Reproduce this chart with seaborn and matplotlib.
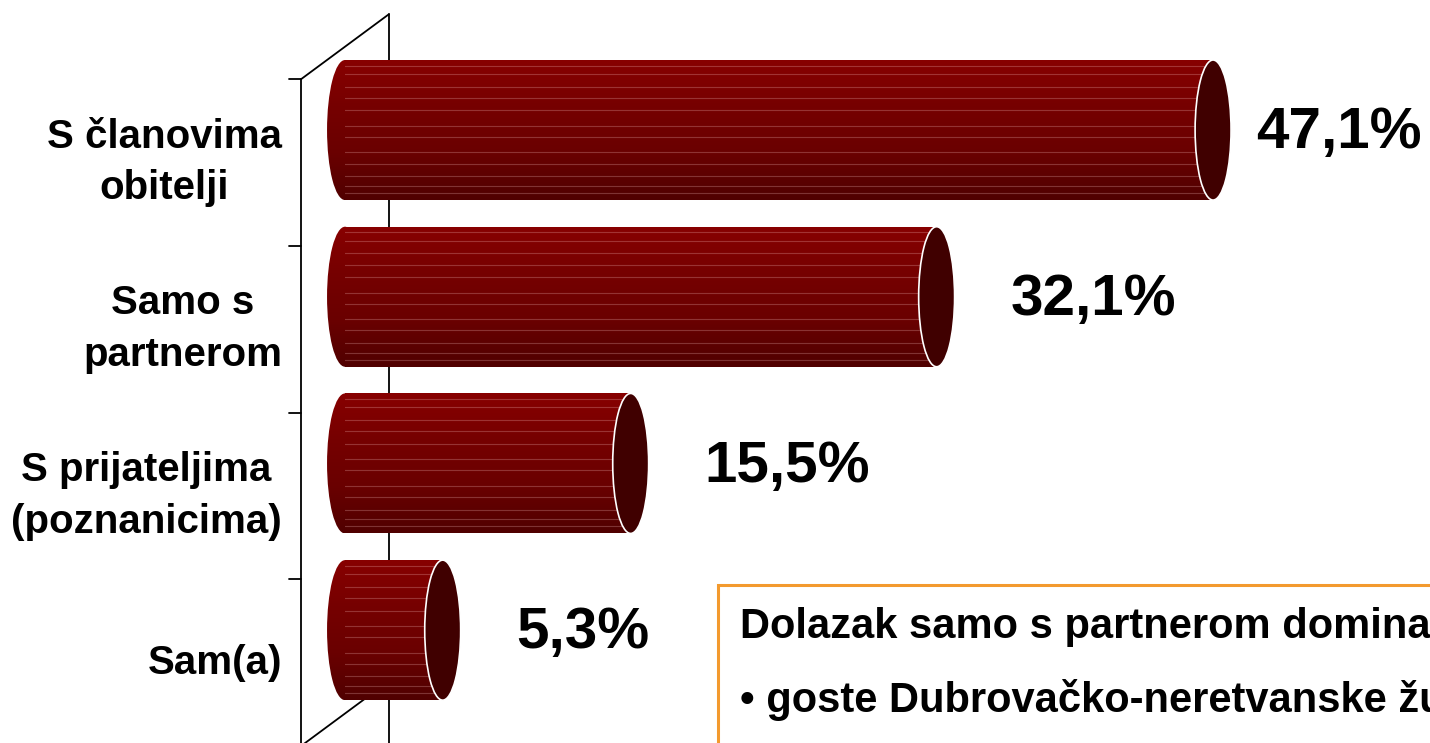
import numpy as np
import matplotlib
matplotlib.use('Agg')
import matplotlib.pyplot as plt
from matplotlib.patches import Ellipse, Rectangle
from matplotlib.colors import LinearSegmentedColormap
import seaborn as sns

# data
categories = ['S članovima\nobitelji', 'Samo s\npartnerom', 'S prijateljima\n(poznanicima)', 'Sam(a)']
values = [47.1, 32.1, 15.5, 5.3]
value_labels = ['47,1%', '32,1%', '15,5%', '5,3%']
note_lines = ['Dolazak samo s partnerom dominantan je kod:',
              '• goste Dubrovačko-neretvanske županije']

# style
sns.set_style('white')
plt.rcParams['font.family'] = ['Liberation Sans', 'DejaVu Sans']
plt.rcParams['text.color'] = 'black'

body_cmap = LinearSegmentedColormap.from_list('body', ['#880000', '#760000', '#6a0000', '#500000'])
cap_color = '#400000'
depth_x = 4.77      # 3D depth of the plot box, in value units
depth_y = 0.39      # 3D depth of the plot box, in category units
cap_w = 1.95        # width of the cylinder end ellipse, in value units
bar_h = 0.84

fig = plt.figure(figsize=(14.3, 7.43), dpi=100)
ax = fig.add_axes([0, 0, 1, 1])

sns.barplot(x=values, y=categories, orient='h', ax=ax, color='#700000',
            saturation=1, width=bar_h, zorder=3)

ax.axis('off')

# 3D frame: front wall, back wall, top and bottom diagonals, ticks
xf, xb = -depth_x / 2, depth_x / 2
n = len(categories)
edges = np.arange(n + 1) - 0.5 + depth_y / 2
ax.plot([xf, xf], [edges[0], edges[-1]], color='black', lw=1.3, zorder=1)
ax.plot([xb, xb], [edges[0] - depth_y, edges[-1]], color='black', lw=1.3, zorder=1)
ax.plot([xf, xb], [edges[0], edges[0] - depth_y], color='black', lw=1.3, zorder=1)
ax.plot([xf, xb], [edges[-1], edges[-1] - depth_y], color='black', lw=1.3, zorder=1)
for e in edges:
    ax.plot([xf - 0.65, xf], [e, e], color='black', lw=1.3, zorder=1)

# cylinders
grad = np.linspace(0, 1, 256).reshape(-1, 1)
stripes = [0.04, 0.1, 0.19, 0.27, 0.36, 0.47, 0.55, 0.66, 0.74, 0.83, 0.9, 0.95]
for p, v in zip(ax.patches, values):
    x0, y0 = p.get_x(), p.get_y()
    w, h = p.get_width(), p.get_height()
    yc = y0 + h / 2
    p.set_visible(False)
    left = Ellipse((0, yc), cap_w, h, fc='none', ec='none')
    body = Rectangle((0, y0), w, h, fc='none', ec='none')
    for shape in (left, body):
        ax.add_patch(shape)
        im = ax.imshow(grad, cmap=body_cmap, aspect='auto', origin='upper',
                       extent=(-cap_w / 2, w, y0 + h, y0), zorder=3)
        im.set_clip_path(shape)
    for s in stripes:
        ln, = ax.plot([-cap_w / 2, w], [y0 + s * h] * 2, color='#ffcccc', alpha=0.25,
                      lw=0.8, zorder=3.5)
        ln.set_clip_path(body)
    ax.add_patch(Ellipse((w, yc), cap_w, h, fc=cap_color, ec='white', lw=1.2, zorder=4))

ax.set_xlim(-18.72, 58.87)
ax.set_ylim(3.677, -0.78)

# labels
for i, cat in enumerate(categories):
    ax.text(-3.42, i + depth_y / 2, cat, ha='right', va='center', multialignment='center',
            fontsize=29, fontweight='bold', linespacing=1.45)

renderer = fig.canvas.get_renderer()
fig_w = fig.bbox.width
for i, (v, lab) in enumerate(zip(values, value_labels)):
    t = ax.text(v + 4.0, i + 0.02, lab, ha='left', va='center', fontsize=42,
                fontweight='bold')
    # keep the label inside the figure
    bb = t.get_window_extent(renderer)
    overflow = bb.x1 - (fig_w - 8)
    if overflow > 0:
        x_disp = ax.transData.transform((v + 4.0, 0))[0] - overflow
        t.set_x(ax.transData.inverted().transform((x_disp, 0))[0])

# note box
fig.patches.append(Rectangle((0.502, -0.05), 0.6, 0.2627, transform=fig.transFigure,
                             fill=False, ec='#F39A2E', lw=2.2))
fig.text(0.5175, 0.156, note_lines[0], ha='left', va='center', fontsize=30, fontweight='bold')
fig.text(0.5175, 0.058, note_lines[1], ha='left', va='center', fontsize=30, fontweight='bold')

fig.savefig('out.png', dpi=100)
